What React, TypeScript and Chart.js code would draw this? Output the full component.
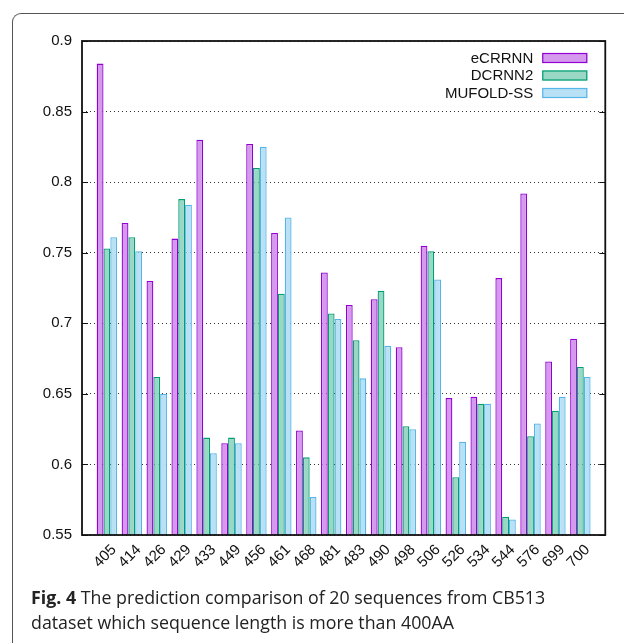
import React, { useEffect, useRef } from "react";
import { Chart, registerables } from "chart.js";

Chart.register(...registerables);

// Sequence lengths (x categories)
const sequenceLengths = [
  "405", "414", "426", "429", "433", "449", "456", "461", "468", "481",
  "483", "490", "498", "506", "526", "534", "544", "576", "699", "700",
];

// Prediction accuracy per method
const eCRRNN = [
  0.884, 0.771, 0.730, 0.760, 0.830, 0.615, 0.827, 0.764, 0.624, 0.736,
  0.713, 0.717, 0.683, 0.755, 0.647, 0.648, 0.732, 0.792, 0.673, 0.689,
];
const DCRNN2 = [
  0.753, 0.761, 0.662, 0.788, 0.619, 0.619, 0.810, 0.721, 0.605, 0.707,
  0.688, 0.723, 0.627, 0.751, 0.591, 0.643, 0.563, 0.620, 0.638, 0.669,
];
const MUFOLD_SS = [
  0.761, 0.751, 0.650, 0.784, 0.608, 0.615, 0.825, 0.775, 0.577, 0.703,
  0.661, 0.684, 0.625, 0.731, 0.616, 0.643, 0.561, 0.629, 0.648, 0.662,
];

const yMin = 0.55;
const yMax = 0.9;
const yStep = 0.05;

const seriesNames = ["eCRRNN", "DCRNN2", "MUFOLD-SS"];
const seriesFill = ["#d59aee", "#98d8c4", "#b9e1f5"];
const seriesLine = ["#9400d3", "#009e73", "#56b4e9"];

const AXIS_FONT = "'Liberation Sans', Arial, sans-serif";

// one empty slot on each side of the 20 groups
const pad = <T,>(arr: T[], empty: T): T[] => [empty, ...arr, empty];

// frame around the plot area plus inward tick marks on both sides
const plotFrame = {
  id: "plotFrame",
  afterDatasetsDraw(chart: any) {
    const { ctx, chartArea } = chart;
    const { left, right, top, bottom } = chartArea;
    const y = chart.scales.y;
    ctx.save();
    ctx.strokeStyle = "#111";
    ctx.lineWidth = 1;
    y.ticks.forEach((t: any) => {
      const py = Math.round(y.getPixelForValue(t.value)) + 0.5;
      ctx.beginPath();
      ctx.moveTo(left, py);
      ctx.lineTo(left + 6, py);
      ctx.moveTo(right - 6, py);
      ctx.lineTo(right, py);
      ctx.stroke();
    });
    ctx.lineWidth = 1.8;
    ctx.strokeRect(left, top, right - left, bottom - top);
    ctx.restore();
  },
};

// key in the top-right corner: label text on the left, swatch on the right
const insideLegend = {
  id: "insideLegend",
  afterDraw(chart: any) {
    const { ctx, chartArea } = chart;
    const textRight = chartArea.right - 72;
    const boxLeft = chartArea.right - 63;
    const boxW = 45;
    const boxH = 10;
    const rowH = 17.5;
    const firstRow = chartArea.top + 17;
    ctx.save();
    ctx.font = `15px ${AXIS_FONT}`;
    ctx.textAlign = "right";
    ctx.textBaseline = "middle";
    chart.data.datasets.forEach((ds: any, i: number) => {
      const cy = firstRow + i * rowH;
      ctx.fillStyle = "#111";
      ctx.fillText(ds.label, textRight, cy + 0.5);
      ctx.fillStyle = ds.backgroundColor;
      ctx.fillRect(boxLeft, cy - boxH / 2, boxW, boxH);
      ctx.strokeStyle = ds.borderColor;
      ctx.lineWidth = 1.2;
      ctx.strokeRect(boxLeft + 0.5, cy - boxH / 2 + 0.5, boxW - 1, boxH - 1);
    });
    ctx.restore();
  },
};

function AccuracyChart() {
  const canvasRef = useRef<HTMLCanvasElement | null>(null);

  useEffect(() => {
    const canvas = canvasRef.current;
    if (!canvas) return;
    const series = [eCRRNN, DCRNN2, MUFOLD_SS];
    const chart = new Chart(canvas, {
      type: "bar",
      data: {
        labels: pad(sequenceLengths, ""),
        datasets: series.map((values, i) => ({
          label: seriesNames[i],
          data: pad<number | null>(values, null),
          backgroundColor: seriesFill[i],
          borderColor: seriesLine[i],
          borderWidth: 1.3,
          borderSkipped: "start",
          categoryPercentage: 0.82,
          barPercentage: 1.0,
        })),
      },
      options: {
        responsive: false,
        animation: false,
        devicePixelRatio: 1,
        events: [],
        layout: { padding: { top: 41, right: 13, left: 0, bottom: 0 } },
        plugins: {
          legend: { display: false },
          tooltip: { enabled: false },
          title: { display: false },
        },
        scales: {
          x: {
            type: "category",
            offset: false,
            grid: { display: false, drawTicks: false },
            border: { display: false },
            ticks: {
              autoSkip: false,
              maxRotation: 45,
              minRotation: 45,
              padding: 6,
              labelOffset: 7,
              color: "#111",
              font: { family: AXIS_FONT, size: 15 },
            },
            afterFit(scale: any) {
              scale.height = 108;
            },
          },
          y: {
            min: yMin,
            max: yMax,
            grid: {
              color: "#333",
              lineWidth: 1,
              drawTicks: false,
            },
            border: { display: false, dash: [1, 3] },
            ticks: {
              stepSize: yStep,
              padding: 10,
              color: "#111",
              font: { family: AXIS_FONT, size: 15 },
              callback: (v: any) => String(Number(Number(v).toFixed(2))),
            },
            afterFit(scale: any) {
              scale.width = 82;
            },
          },
        },
      },
      plugins: [plotFrame, insideLegend],
    });
    return () => chart.destroy();
  }, []);

  return <canvas ref={canvasRef} width={624} height={643} style={{ display: "block" }} />;
}

export default function App() {
  return (
    <div
      style={{
        position: "fixed",
        left: 0,
        top: 0,
        width: 624,
        height: 643,
        overflow: "hidden",
        background: "#fff",
      }}
    >
      <div
        style={{
          position: "absolute",
          left: 11.5,
          top: 13,
          width: 700,
          height: 700,
          borderLeft: "1px solid #555",
          borderTop: "1px solid #555",
          borderTopLeftRadius: 9,
          boxSizing: "border-box",
        }}
      />
      <div style={{ position: "absolute", left: 0, top: 0 }}>
        <AccuracyChart />
      </div>
      <div
        style={{
          position: "absolute",
          left: 31,
          top: 585,
          fontFamily: "'Open Sans', sans-serif",
          fontSize: 17.8,
          lineHeight: "25px",
          color: "#222",
          whiteSpace: "nowrap",
        }}
      >
        <b>Fig. 4</b> The prediction comparison of 20 sequences from CB513
        <br />
        dataset which sequence length is more than 400AA
      </div>
    </div>
  );
}
